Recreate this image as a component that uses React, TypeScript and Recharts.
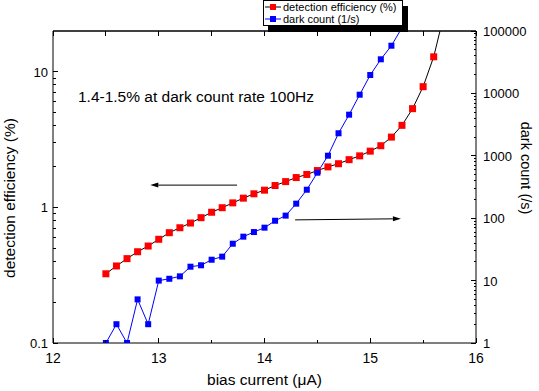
import React from "react";
import { LineChart, Line, XAxis, YAxis, ReferenceLine, ReferenceDot } from "recharts";

// bias current (uA), one point every 0.1 uA
const biasCurrent = [
  12.5, 12.6, 12.7, 12.8, 12.9, 13.0, 13.1, 13.2, 13.3, 13.4, 13.5,
  13.6, 13.7, 13.8, 13.9, 14.0, 14.1, 14.2, 14.3, 14.4, 14.5, 14.6,
  14.7, 14.8, 14.9, 15.0, 15.1, 15.2, 15.3, 15.4, 15.5, 15.6, 15.7,
];

// detection efficiency (%)
const efficiency = [
  0.324, 0.37, 0.419, 0.471, 0.519, 0.582, 0.651, 0.708, 0.767, 0.84, 0.921,
  0.995, 1.08, 1.17, 1.26, 1.34, 1.45, 1.55, 1.66, 1.75, 1.87, 1.99,
  2.1, 2.25, 2.4, 2.6, 2.85, 3.3, 4.03, 5.35, 7.77, 12.9, 27,
];

// dark count (1/s)
const darkCount = [
  1, 2, 1, 5, 2, 10, 10.7, 11.7, 16.7, 17.6, 21.6,
  24.2, 39, 50.6, 60, 70.5, 91, 110, 171, 286, 536, 1004,
  2296, 4560, 9530, 19700, 35200, 58100, 113000,
];

const xTicks = [12, 12.5, 13, 13.5, 14, 14.5, 15, 15.5, 16];
const xLabels = [12, 13, 14, 15, 16];
const leftTicks = [0.1, 0.2, 0.3, 0.4, 0.5, 0.6, 0.7, 0.8, 0.9, 1, 2, 3, 4, 5, 6, 7, 8, 9, 10];
const leftLabels = [0.1, 1, 10];
const rightLabels = [1, 10, 100, 1000, 10000, 100000];
const rightTicks = rightLabels.flatMap((d) =>
  d === 100000 ? [d] : [1, 2, 3, 4, 5, 6, 7, 8, 9].map((m) => m * d)
);

const note = "1.4-1.5% at dark count rate 100Hz";
const notePos = { x: 12.236, y: 6.5 };
const effArrow = [{ x: 13.74, y: 1.46 }, { x: 12.92, y: 1.46 }];
const darkArrow = [{ x: 14.29, y: 94 }, { x: 15.29, y: 98 }];

const data = biasCurrent.map((b, i) => ({
  bias: b,
  eff: efficiency[i],
  dark: darkCount[i] ?? null,
}));

const FONT = "'Liberation Sans', Arial, sans-serif";

const SquareDot = (props: any) => {
  const { cx, cy, fill, size } = props;
  if (cx == null || cy == null || isNaN(cx) || isNaN(cy)) return null;
  return (
    <rect x={cx - size / 2} y={cy - size / 2} width={size} height={size} fill={fill} stroke="none" />
  );
};

const BottomTick = ({ x, y, payload }: any) => {
  const major = xLabels.includes(payload.value);
  return (
    <g>
      <line x1={x} x2={x} y1={y} y2={y - (major ? 5 : 3)} stroke="#000" shapeRendering="crispEdges" />
      {major && (
        <text x={x} y={y + 20} textAnchor="middle" fontSize={14} fontFamily={FONT} fill="#000">
          {payload.value}
        </text>
      )}
    </g>
  );
};

const TopTick = ({ x, y }: any) => (
  <line x1={x} x2={x} y1={y} y2={y + 5} stroke="#000" shapeRendering="crispEdges" />
);

const LeftTick = ({ x, y, payload }: any) => {
  const major = leftLabels.includes(payload.value);
  return (
    <g>
      <line x1={x} x2={x + (major ? 5 : 3)} y1={y} y2={y} stroke="#000" shapeRendering="crispEdges" />
      {major && (
        <text x={x - 5} y={y + 5} textAnchor="end" fontSize={13} fontFamily={FONT} fill="#000">
          {payload.value}
        </text>
      )}
    </g>
  );
};

const RightTick = ({ x, y, payload }: any) => {
  const major = rightLabels.includes(payload.value);
  return (
    <g>
      <line x1={x} x2={x - (major ? 5 : 2)} y1={y} y2={y} stroke="#000" shapeRendering="crispEdges" />
      {major && (
        <text x={x + 7} y={y + 5} textAnchor="start" fontSize={13} fontFamily={FONT} fill="#000">
          {payload.value}
        </text>
      )}
    </g>
  );
};

const Arrow = (props: any) => {
  const { x1, y1, x2, y2 } = props;
  const len = Math.hypot(x2 - x1, y2 - y1) || 1;
  const ux = (x2 - x1) / len;
  const uy = (y2 - y1) / len;
  const hl = 8;
  const hw = 2.5;
  const bx = x2 - ux * hl;
  const by = y2 - uy * hl;
  const pts = `${x2},${y2} ${bx - uy * hw},${by + ux * hw} ${bx + uy * hw},${by - ux * hw}`;
  return (
    <g>
      <line x1={x1} y1={y1} x2={bx} y2={by} stroke="#000" strokeWidth={1} />
      <polygon points={pts} fill="#000" />
    </g>
  );
};

const LegendBox = () => (
  <div
    style={{
      position: "absolute",
      left: 263,
      top: 0,
      width: 138,
      height: 24,
      border: "1px solid #000",
      background: "#fff",
      boxShadow: "5px 6px 0 #000",
      fontFamily: FONT,
      fontSize: 11,
      lineHeight: "12px",
    }}
  >
    {[
      { label: "detection efficiency (%)", line: "#000", fill: "#f00" },
      { label: "dark count (1/s)", line: "#00f", fill: "#00f" },
    ].map((it) => (
      <div key={it.label} style={{ display: "flex", alignItems: "center", height: 12 }}>
        <svg width={16} height={12} style={{ marginLeft: 1 }}>
          <line x1={0} x2={16} y1={6} y2={6} stroke={it.line} />
          <rect x={5} y={3} width={6} height={6} fill={it.fill} />
        </svg>
        <span style={{ marginLeft: 2, whiteSpace: "nowrap" }}>{it.label}</span>
      </div>
    ))}
  </div>
);

export default function App() {
  return (
    <div style={{ position: "absolute", left: 0, top: 0, width: 539, height: 391, background: "#fff" }}>
      <LineChart width={539} height={391} data={data} margin={{ top: 26, right: 0, bottom: 0, left: 0 }}>
        <XAxis
          dataKey="bias"
          type="number"
          domain={[12, 16]}
          ticks={xTicks}
          interval={0}
          height={48}
          tickSize={0}
          tickMargin={0}
          tick={<BottomTick />}
          axisLine={{ stroke: "#000" }}
          allowDataOverflow
          label={{
            content: () => (
              <text x={264.5} y={385} textAnchor="middle" fontSize={15.5} fontFamily={FONT} fill="#000">
                bias current (μA)
              </text>
            ),
          }}
        />
        <XAxis
          xAxisId="top"
          dataKey="bias"
          type="number"
          orientation="top"
          domain={[12, 16]}
          ticks={xTicks}
          interval={0}
          height={5}
          tickSize={0}
          tickMargin={0}
          tick={<TopTick />}
          axisLine={{ stroke: "#000" }}
          allowDataOverflow
        />
        <YAxis
          yAxisId="left"
          scale="log"
          domain={[0.1, 20]}
          ticks={leftTicks}
          interval={0}
          width={53}
          tickSize={0}
          tickMargin={0}
          tick={<LeftTick />}
          axisLine={{ stroke: "#000" }}
          allowDataOverflow
          label={{
            content: () => (
              <text
                transform="translate(15,198) rotate(-90)"
                textAnchor="middle"
                fontSize={15.5}
                fontFamily={FONT}
                fill="#000"
              >
                detection efficiency (%)
              </text>
            ),
          }}
        />
        <YAxis
          yAxisId="right"
          orientation="right"
          scale="log"
          domain={[1, 100000]}
          ticks={rightTicks}
          interval={0}
          width={63}
          tickSize={0}
          tickMargin={0}
          tick={<RightTick />}
          axisLine={{ stroke: "#000" }}
          allowDataOverflow
          label={{
            content: () => (
              <text
                transform="translate(521,168) rotate(90)"
                textAnchor="middle"
                fontSize={14.5}
                fontFamily={FONT}
                fill="#000"
              >
                dark count (/s)
              </text>
            ),
          }}
        />

        <ReferenceLine yAxisId="left" y={20} stroke="#000" />
        <ReferenceLine yAxisId="left" segment={effArrow} shape={(p: any) => <Arrow {...p} />} />
        <ReferenceLine yAxisId="right" segment={darkArrow} shape={(p: any) => <Arrow {...p} />} />
        <ReferenceDot
          yAxisId="left"
          x={notePos.x}
          y={notePos.y}
          shape={(p: any) => (
            <text x={p.cx} y={p.cy + 5} fontSize={15.5} fontFamily={FONT} fill="#000">
              {note}
            </text>
          )}
        />

        <Line
          yAxisId="left"
          type="linear"
          dataKey="eff"
          stroke="#000"
          strokeWidth={1}
          dot={<SquareDot fill="#f00" size={7} />}
          activeDot={false}
          isAnimationActive={false}
        />
        <Line
          yAxisId="right"
          type="linear"
          dataKey="dark"
          stroke="#00f"
          strokeWidth={1}
          dot={<SquareDot fill="#00f" size={6} />}
          activeDot={false}
          isAnimationActive={false}
        />
      </LineChart>
      <LegendBox />
    </div>
  );
}
